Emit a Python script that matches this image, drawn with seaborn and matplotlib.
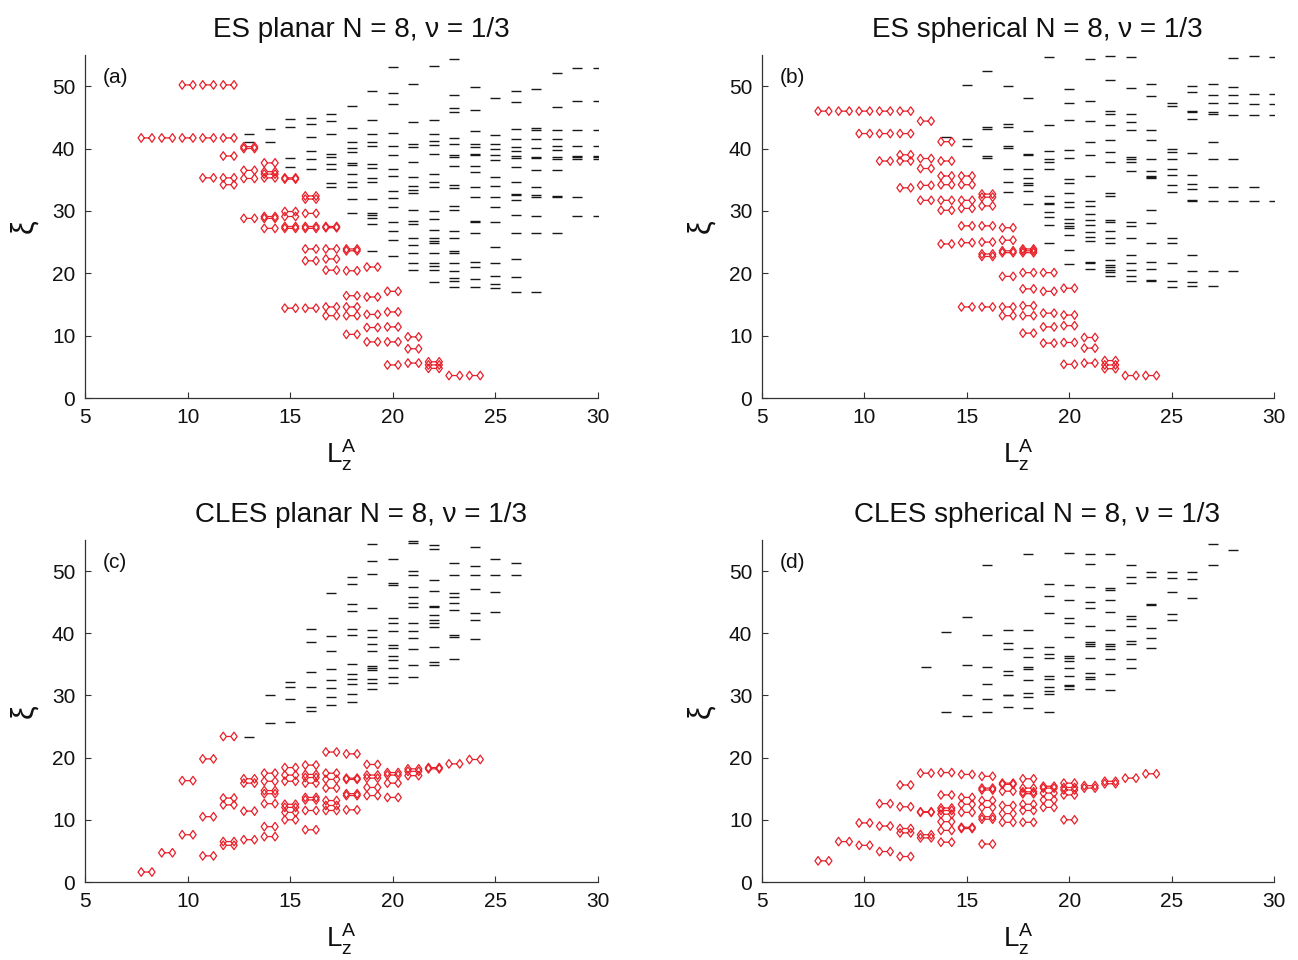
import numpy as np
import pandas as pd
import matplotlib
matplotlib.use("Agg")
import matplotlib.pyplot as plt
from matplotlib.path import Path
import seaborn as sns

# ---------------- data: {L_z^A : [xi levels]} ----------------
a_red = {8: [41.7], 9: [41.7], 10: [50.2, 41.7], 11: [50.2, 41.7, 35.3],
         12: [50.2, 41.7, 38.8, 35.3, 34.2], 13: [40.0, 40.3, 36.5, 35.2, 28.8],
         14: [37.7, 36.3, 35.9, 35.3, 29.1, 28.8, 27.2],
         15: [35.3, 35.1, 29.9, 29.1, 27.5, 27.2, 14.4],
         16: [32.4, 31.9, 29.6, 27.5, 27.2, 23.9, 22.0, 14.4],
         17: [27.5, 27.3, 23.9, 22.3, 20.5, 14.6, 13.2],
         18: [23.9, 23.6, 20.4, 16.4, 14.6, 13.2, 10.2],
         19: [21.0, 16.2, 13.4, 11.3, 9.0], 20: [17.1, 13.8, 11.4, 9.0, 5.3],
         21: [9.8, 7.9, 5.6], 22: [5.8, 5.3, 4.75], 23: [3.6], 24: [3.6]}

a_black = {13: [42.4, 41.0], 14: [43.1, 41.0], 15: [44.8, 43.5, 38.5, 37.0],
           16: [44.9, 43.9, 41.9, 39.6, 38.3, 36.7],
           17: [45.6, 44.4, 42.3, 39.1, 38.6, 37.5, 36.7, 34.4, 33.8],
           18: [46.8, 43.3, 41.0, 40.1, 39.5, 37.7, 37.4, 35.9, 34.7, 33.8, 31.9, 29.6],
           19: [49.2, 44.6, 42.3, 41.0, 40.4, 37.6, 36.9, 35.3, 34.7, 31.9, 29.7, 29.3,
                28.8, 27.9, 23.6],
           20: [53.0, 48.9, 47.2, 42.5, 40.4, 38.9, 36.8, 35.6, 33.2, 32.1, 30.7, 28.3,
                26.7, 25.4, 22.8],
           21: [50.4, 44.2, 40.7, 40.3, 37.9, 35.4, 34.0, 33.4, 32.8, 30.1, 28.4, 27.9,
                25.6, 24.6, 23.3, 21.6, 20.5],
           22: [53.3, 44.6, 42.3, 41.2, 40.6, 39.2, 35.9, 34.6, 33.8, 30.0, 28.7, 26.9,
                25.6, 25.2, 24.9, 23.3, 21.7, 21.1, 20.5, 18.6],
           23: [54.3, 48.6, 46.5, 45.9, 41.7, 40.7, 39.0, 38.7, 37.2, 34.2, 33.6, 30.8,
                30.1, 26.8, 25.6, 23.6, 23.2, 21.6, 20.3, 19.2, 18.8, 17.8],
           24: [49.8, 46.2, 42.8, 40.8, 40.3, 39.1, 38.9, 37.2, 36.2, 33.9, 32.3, 28.4,
                28.3, 26.4, 21.8, 21.0, 19.1, 17.8],
           25: [48.1, 42.2, 40.8, 39.9, 39.0, 38.2, 35.5, 34.0, 32.3, 30.7, 28.2, 24.2,
                21.7, 19.5, 18.2, 17.7],
           26: [49.3, 47.5, 43.2, 41.6, 40.2, 39.6, 38.8, 38.5, 37.1, 34.6, 32.7, 32.5,
                31.7, 29.3, 26.5, 22.3, 19.4, 17.0],
           27: [49.5, 43.3, 43.0, 41.5, 40.1, 38.7, 38.5, 36.6, 33.8, 32.5, 32.3, 29.2,
                26.5, 17.0],
           28: [52.1, 46.6, 42.9, 41.5, 40.4, 39.8, 38.7, 38.4, 36.6, 32.4, 32.3, 26.5],
           29: [52.9, 47.6, 42.9, 40.4, 38.8, 38.6, 38.4, 32.2, 29.2],
           30: [52.9, 47.6, 42.9, 40.4, 38.8, 38.6, 38.4, 29.2]}

b_red = {8: [46.0], 9: [46.0], 10: [46.0, 42.4], 11: [46.0, 42.4, 38.0],
         12: [46.0, 42.4, 39.0, 38.0, 33.7], 13: [44.4, 38.4, 36.8, 34.1, 31.7],
         14: [41.1, 38.0, 35.6, 34.2, 31.7, 30.1, 24.7],
         15: [35.6, 34.2, 31.7, 30.4, 27.6, 24.9, 14.6],
         16: [32.7, 32.2, 30.8, 27.6, 25.0, 23.1, 22.7, 14.6],
         17: [27.3, 25.3, 23.6, 23.3, 19.5, 14.6, 13.2],
         18: [23.9, 23.6, 23.3, 20.1, 17.5, 14.8, 13.2, 10.4],
         19: [20.1, 17.1, 13.6, 11.4, 8.8], 20: [17.6, 13.3, 11.6, 8.9, 5.4],
         21: [9.7, 8.0, 5.6], 22: [6.0, 5.3, 4.7], 23: [3.6], 24: [3.6]}

b_black = {14: [41.8], 15: [50.2, 41.5, 40.4], 16: [52.5, 43.5, 43.1, 38.8, 38.5],
           17: [50.1, 43.9, 43.5, 40.4, 40.1, 36.8, 34.7, 33.1],
           18: [48.1, 42.8, 39.2, 38.9, 36.8, 35.2, 34.4, 34.2, 33.2, 31.1],
           19: [54.7, 43.7, 39.6, 38.4, 37.9, 36.8, 32.4, 31.2, 31.1, 29.9, 29.0, 27.8, 24.9],
           20: [49.6, 47.3, 44.6, 39.8, 38.5, 35.1, 34.4, 32.9, 31.4, 30.7, 28.7, 28.0,
                27.6, 27.2, 26.1, 23.7, 21.5],
           21: [54.3, 47.7, 44.4, 41.1, 38.9, 35.6, 31.6, 30.8, 29.5, 28.5, 27.7, 26.6,
                25.8, 25.2, 21.8, 21.6, 20.7],
           22: [54.8, 51.0, 46.1, 45.5, 43.8, 41.4, 39.4, 37.9, 32.9, 32.4, 28.5, 28.2,
                26.7, 25.6, 24.9, 22.2, 21.3, 21.0, 20.5, 20.2, 19.5],
           23: [54.6, 49.7, 45.5, 44.2, 43.0, 38.7, 38.4, 37.9, 36.4, 28.3, 27.6, 25.7,
                22.9, 21.6, 20.5, 19.6, 18.7],
           24: [50.4, 48.5, 43.0, 41.4, 38.3, 36.4, 35.6, 35.4, 35.2, 30.1, 28.1, 24.9,
                21.8, 20.7, 18.9, 18.8],
           25: [47.3, 46.8, 40.0, 39.5, 38.4, 36.8, 35.7, 34.2, 33.1, 25.6, 24.8, 21.7,
                18.8, 17.8],
           26: [50.1, 49.0, 46.1, 45.9, 44.8, 39.3, 35.7, 34.3, 33.5, 31.8, 31.6, 23.0,
                20.3, 18.6, 17.9],
           27: [50.4, 48.6, 47.3, 45.8, 45.6, 41.0, 38.4, 33.8, 31.6, 20.3, 17.9],
           28: [54.5, 49.9, 48.6, 47.3, 45.4, 38.3, 33.8, 31.6, 20.3],
           29: [54.8, 48.7, 47.2, 45.3, 33.8, 31.6],
           30: [54.7, 48.7, 47.2, 45.3, 31.6]}

c_red = {8: [1.6], 9: [4.7], 10: [16.3, 7.6], 11: [19.8, 10.5, 4.2],
         12: [23.4, 13.5, 12.4, 6.5, 5.9], 13: [16.6, 15.9, 11.4, 6.8],
         14: [17.5, 16.2, 14.7, 14.2, 12.6, 8.9, 7.3],
         15: [18.4, 17.2, 16.2, 12.5, 12.0, 11.2, 10.0],
         16: [18.8, 17.3, 16.8, 15.9, 13.6, 13.2, 11.5, 8.4],
         17: [20.9, 17.5, 16.5, 15.1, 13.1, 12.3, 11.5],
         18: [20.6, 16.7, 16.5, 14.2, 13.9, 11.6],
         19: [18.9, 17.2, 16.7, 15.2, 13.9], 20: [17.6, 17.2, 15.9, 13.6],
         21: [18.2, 17.8, 17.1], 22: [18.4, 18.2], 23: [19.0], 24: [19.7]}

c_black = {13: [23.3], 14: [30.1, 25.5], 15: [32.1, 31.4, 29.5, 25.8],
           16: [40.7, 38.6, 33.7, 31.4, 28.1, 27.5],
           17: [46.5, 39.6, 37.2, 34.3, 32.5, 31.2, 29.8, 28.4],
           18: [49.0, 47.9, 44.7, 43.6, 40.7, 39.7, 35.0, 33.5, 32.6, 31.9, 30.2, 29.0],
           19: [54.3, 51.7, 49.6, 44.1, 40.6, 39.4, 38.2, 37.1, 34.8, 34.4, 34.1, 32.7,
                32.0, 31.1],
           20: [52.0, 48.1, 47.8, 42.4, 41.6, 40.4, 38.1, 37.7, 36.3, 35.7, 34.4, 33.0, 32.0],
           21: [54.9, 54.5, 50.0, 49.3, 47.4, 45.9, 44.8, 44.3, 41.7, 40.4, 39.2, 37.5,
                34.9, 32.9],
           22: [54.2, 53.5, 48.6, 46.8, 44.4, 44.3, 43.0, 42.2, 41.6, 41.0, 37.8, 35.3, 34.9],
           23: [51.3, 49.4, 46.5, 45.9, 44.8, 43.7, 39.7, 39.4, 35.8],
           24: [53.9, 50.8, 49.4, 47.1, 43.3, 42.1, 39.1],
           25: [52.0, 49.4, 46.6, 43.4], 26: [51.3, 49.4]}

d_red = {8: [3.4], 9: [6.5], 10: [9.5, 5.9], 11: [12.6, 9.0, 4.9],
         12: [15.6, 12.1, 8.6, 7.9, 4.1], 13: [17.5, 11.3, 11.2, 7.6, 7.1],
         14: [17.6, 14.0, 11.9, 11.5, 10.9, 9.7, 8.3, 6.4],
         15: [17.3, 13.6, 12.5, 11.2, 8.8, 8.6],
         16: [17.0, 15.1, 14.8, 13.1, 12.0, 10.5, 10.1, 6.1],
         17: [15.9, 15.7, 14.6, 12.3, 11.0, 9.6],
         18: [16.6, 15.1, 14.5, 14.2, 12.5, 11.5, 9.6],
         19: [15.4, 15.1, 14.3, 13.2, 12.0], 20: [15.9, 15.2, 14.8, 14.0, 10.0],
         21: [15.5, 15.1], 22: [16.2, 15.8], 23: [16.7], 24: [17.4]}

d_black = {13: [34.6], 14: [40.2, 27.4], 15: [42.6, 34.9, 30.1, 26.7],
           16: [51.0, 39.8, 34.5, 31.9, 29.5, 27.4],
           17: [40.5, 38.5, 37.5, 34.0, 33.3, 30.1, 30.0, 28.2],
           18: [52.7, 40.5, 37.7, 36.2, 34.5, 34.2, 32.5, 30.4, 29.8, 28.0],
           19: [48.0, 46.0, 43.3, 37.8, 36.6, 36.1, 33.1, 32.7, 31.4, 30.7, 30.3, 27.3],
           20: [52.9, 47.8, 45.3, 42.5, 41.6, 39.4, 36.4, 36.1, 35.5, 34.4, 33.2, 31.7,
                31.5, 31.1],
           21: [52.8, 51.1, 47.4, 45.0, 44.0, 41.2, 38.6, 38.3, 38.0, 36.1, 33.6, 33.0,
                32.6, 31.0],
           22: [52.7, 47.3, 46.9, 45.4, 43.4, 40.5, 38.3, 38.0, 37.4, 35.9, 33.4, 30.8],
           23: [51.0, 49.0, 48.1, 42.7, 42.3, 41.1, 38.7, 38.3, 35.8, 34.4],
           24: [49.9, 49.0, 44.7, 44.5, 40.9, 39.2, 37.7],
           25: [49.9, 48.9, 46.6, 43.1, 42.1], 26: [49.9, 48.8, 45.7],
           27: [54.3, 51.0], 28: [53.4]}

titles = ["ES planar N = 8, ν = 1/3", "ES spherical N = 8, ν = 1/3",
          "CLES planar N = 8, ν = 1/3", "CLES spherical N = 8, ν = 1/3"]
panel_tags = ["(a)", "(b)", "(c)", "(d)"]
x_ticks = [5, 10, 15, 20, 25, 30]
y_ticks = [0, 10, 20, 30, 40, 50]


def frame(levels):
    return pd.DataFrame([(L, v) for L, vals in levels.items() for v in vals],
                        columns=["L", "xi"])


# ---------------- style ----------------
sns.set_style("ticks")
plt.rcParams["font.family"] = ["Liberation Sans", "DejaVu Sans"]
plt.rcParams["mathtext.fontset"] = "custom"
plt.rcParams["mathtext.rm"] = "Liberation Sans"
plt.rcParams["mathtext.it"] = "Liberation Sans:italic"

RED = "#e8202a"
AXC = "#333333"
TXT = "#111111"

# red level marker: diamond - line - diamond
verts = [(-7.9, 0), (-5.0, 4.0), (-2.1, 0), (-5.0, -4.0), (-7.9, 0),
         (2.1, 0), (5.0, 4.0), (7.9, 0), (5.0, -4.0), (2.1, 0),
         (-2.1, 0), (2.1, 0)]
codes = [Path.MOVETO, Path.LINETO, Path.LINETO, Path.LINETO, Path.CLOSEPOLY,
         Path.MOVETO, Path.LINETO, Path.LINETO, Path.LINETO, Path.CLOSEPOLY,
         Path.MOVETO, Path.LINETO]
red_marker = Path(verts, codes)

fig = plt.figure(figsize=(12.98, 9.6), dpi=100)
W, H = 1298.0, 960.0
boxes = [(85, 398, 598, 55), (762, 398, 1274, 55),
         (85, 882, 598, 540), (762, 882, 1274, 540)]
datasets = [(a_red, a_black), (b_red, b_black), (c_red, c_black), (d_red, d_black)]

for i, ((x0, yb, x1, yt), (red, black)) in enumerate(zip(boxes, datasets)):
    ax = fig.add_axes([x0 / W, 1 - yb / H, (x1 - x0) / W, (yb - yt) / H])
    bdf = frame(black)
    rdf = frame(red)
    sns.scatterplot(data=bdf, x="L", y="xi", ax=ax, marker="_", s=52,
                    color="#181818", linewidth=1.0, legend=False)
    sns.scatterplot(data=rdf, x="L", y="xi", ax=ax, marker=red_marker, s=150,
                    facecolor="none", edgecolor=RED, linewidth=0.9, legend=False)
    ax.set_xlim(5, 30)
    ax.set_ylim(0, 55)
    ax.set_xticks(x_ticks)
    ax.set_yticks(y_ticks)
    ax.tick_params(direction="in", length=4, width=0.8, colors=AXC,
                   labelsize=15, labelcolor=TXT, pad=7)
    for side in ["left", "bottom"]:
        ax.spines[side].set_color(AXC)
        ax.spines[side].set_linewidth(0.9)
    sns.despine(ax=ax)
    ax.set_xlabel("$\\mathrm{L_z^A}$", fontsize=20, labelpad=8, color=TXT)
    ax.set_ylabel("ξ", fontsize=22, labelpad=9, color=TXT)
    ax.set_title(titles[i], fontsize=20, x=0.538, pad=13, color=TXT)
    ax.text(0.035, 0.935, panel_tags[i], transform=ax.transAxes, fontsize=15,
            va="center", ha="left", color=TXT)

fig.savefig("out.png", dpi=100)
